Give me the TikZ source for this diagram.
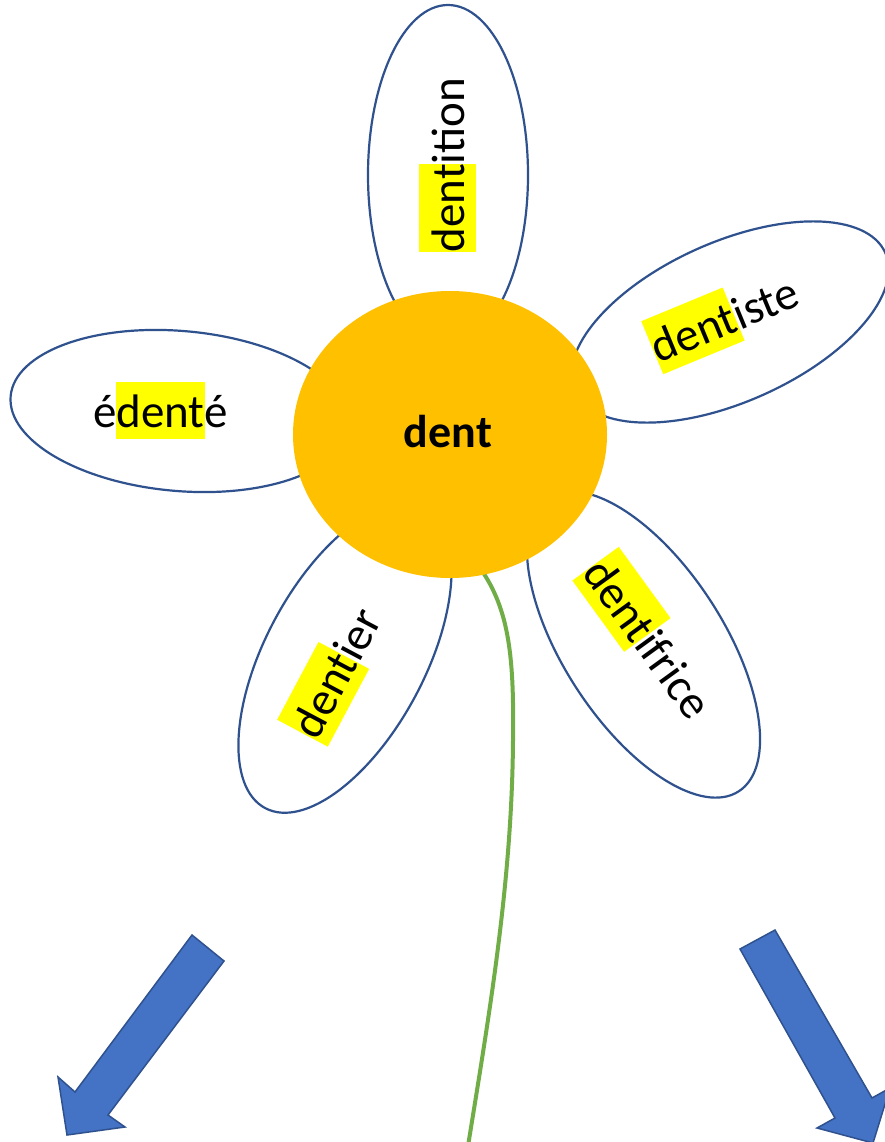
\documentclass[tikz,border=0pt]{standalone}
\usepackage{fontspec}
\setmainfont{Carlito}
\usetikzlibrary{shapes.geometric}
\definecolor{petalblue}{HTML}{2F528F}
\definecolor{hlyellow}{HTML}{FFFF00}
\definecolor{sunorange}{HTML}{FFC000}
\definecolor{stemgreen}{HTML}{70AD47}
\definecolor{arrowblue}{HTML}{4472C4}
\newcommand\hlt[1]{{\setlength{\fboxsep}{0pt}\colorbox{hlyellow}{\rule[-0.24em]{0pt}{1.22em}#1}}}
\tikzset{
  petal/.style={ellipse, draw=petalblue, line width=2.2pt, fill=white, inner sep=0pt,
    minimum width=340pt, minimum height=160pt},
  petaltext/.style={inner sep=0pt, font=\fontsize{47}{56}\selectfont},
  sun/.style={ellipse, fill=sunorange, draw=none, inner sep=0pt,
    minimum width=314pt, minimum height=287pt},
  suntext/.style={inner sep=0pt, font=\fontsize{46}{55}\selectfont\bfseries},
  stem/.style={draw=stemgreen, line width=4pt},
  bigarrow/.style={fill=arrowblue, draw=petalblue, line width=1.5pt, line join=miter}
}
\begin{document}
\begin{tikzpicture}[x=1pt, y=-1pt]
\useasboundingbox (0,0) rectangle (885,1142);
\fill[white] (0,0) rectangle (885,1142);
\begin{scope}
\clip (0,0) rectangle (885,1142);
% petals
\node[petal, rotate=90] (ptop) at (448,175) {};
\node[petal, rotate=24] (pright) at (730,322) {};
\node[petal, rotate=-5] (pleft) at (180,411) {};
\node[petal, rotate=62] (pbl) at (345,658) {};
\node[petal, rotate=-57, minimum width=350pt] (pbr) at (643.5,644.5) {};
% stem
\coordinate (stemtop) at (480,568);
\coordinate (stembot) at (468,1146);
\draw[stem] (stemtop) .. controls (510,610) and (514,660) .. (513,740)
  .. controls (512,880) and (490,1010) .. (stembot);
% sun
\node[sun] (sun) at (450,434.5) {};
\node[suntext, anchor=base] (suntxt) at (448,447) {dent};
% labels
\node[petaltext, rotate=90] (ttop) at (447.5,165) {\hlt{dent}ition};
\node[petaltext, rotate=22.5] (tright) at (724,318) {\hlt{dent}iste};
\node[petaltext] (tleft) at (160.5,410.5) {é\hlt{dent}é};
\node[petaltext, rotate=62] (tbl) at (335,672) {\hlt{dent}ier};
\node[petaltext, rotate=-54] (tbr) at (649.5,638) {\hlt{dent}ifrice};
% arrows
\draw[bigarrow] (192,935) -- (224,961) -- (108,1115) -- (125,1127) -- (67,1135)
  -- (58,1077) -- (75,1092) -- cycle;
\draw[bigarrow] (740,949) -- (775,930) -- (872,1098) -- (890,1088) -- (873,1143)
  -- (817,1128) -- (835,1118) -- cycle;
\end{scope}
\end{tikzpicture}
\end{document}
